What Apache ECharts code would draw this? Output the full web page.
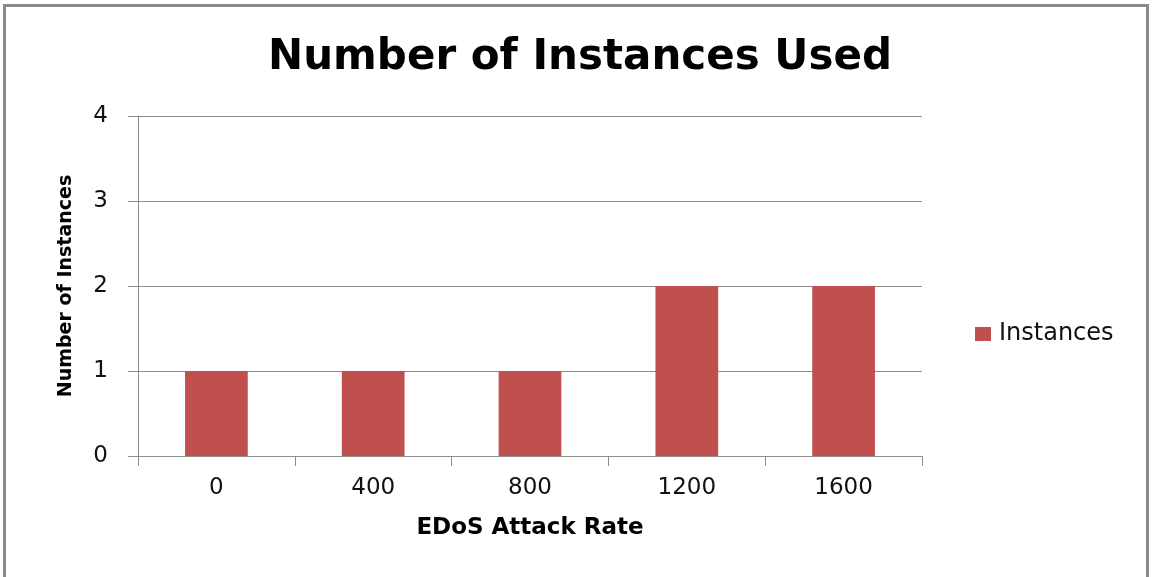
<!DOCTYPE html>
<html>
<head>
<meta charset="utf-8">
<script src="https://cdn.jsdelivr.net/npm/echarts@6/dist/echarts.min.js"></script>
<style>
  html, body { margin: 0; padding: 0; background: #fff; }
  #frame {
    position: absolute; left: 3px; top: 4px; width: 1146px; height: 573px;
    border-top: 3px solid #8a8a8a; border-left: 3px solid #8a8a8a; border-right: 3px solid #8a8a8a;
    box-sizing: border-box;
  }
  #chart { position: absolute; left: 0; top: 0; width: 1153px; height: 577px; }
</style>
</head>
<body>
<div id="frame"></div>
<div id="chart"></div>
<script>
// Attack rates on the x axis and number of instances per rate
const attackRates = ['0', '400', '800', '1200', '1600'];
const instances = [1, 1, 1, 2, 2];
const seriesName = 'Instances';

const chart = echarts.init(document.getElementById('chart'));
const gridColor = '#8c8c8c';
const font = '"DejaVu Sans", sans-serif';

chart.setOption({
  animation: false,
  backgroundColor: 'transparent',
  title: {
    text: 'Number of Instances Used',
    left: 575, top: 32, textAlign: 'center',
    textStyle: { fontFamily: font, fontWeight: 'bold', fontSize: 42, color: '#000' }
  },
  legend: {
    data: [seriesName],
    icon: 'rect',
    left: 970, top: 317,
    itemWidth: 16, itemHeight: 14, itemGap: 8,
    textStyle: { fontFamily: font, fontSize: 24, color: '#111', padding: [0, 0, 0, 3] }
  },
  grid: { left: 138, right: 231, top: 116, bottom: 121 },
  xAxis: {
    type: 'category',
    data: attackRates,
    name: 'EDoS Attack Rate',
    nameLocation: 'middle',
    nameGap: 61,
    nameTextStyle: { fontFamily: font, fontWeight: 'bold', fontSize: 23, color: '#000' },
    axisLine: { lineStyle: { color: gridColor, width: 1 } },
    axisTick: { show: true, length: 10, alignWithLabel: false, lineStyle: { color: gridColor } },
    axisLabel: { margin: 21, fontFamily: font, fontSize: 23, color: '#111' }
  },
  yAxis: {
    type: 'value',
    min: 0, max: 4, interval: 1,
    name: 'Number of Instances',
    nameLocation: 'middle',
    nameGap: 62,
    nameTextStyle: { fontFamily: font, fontWeight: 'bold', fontSize: 19, color: '#000' },
    axisLine: { show: true, lineStyle: { color: gridColor, width: 1 } },
    axisTick: { show: true, length: 10, lineStyle: { color: gridColor } },
    axisLabel: { margin: 30, fontFamily: font, fontSize: 23, color: '#111' },
    splitLine: { show: true, lineStyle: { color: gridColor, width: 1 } }
  },
  series: [{
    name: seriesName,
    type: 'bar',
    data: instances,
    barWidth: '40%',
    itemStyle: { color: '#C0504D' }
  }]
});
</script>
</body>
</html>
